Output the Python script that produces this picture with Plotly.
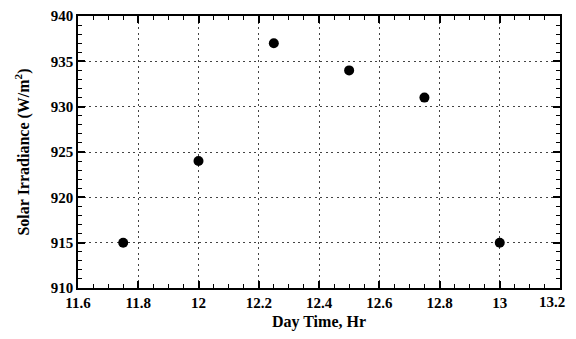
import plotly.graph_objects as go

hours = [11.75, 12.0, 12.25, 12.5, 12.75, 13.0]
irradiance = [915, 924, 937, 934, 931, 915]
x_tickvals = [11.6, 11.8, 12.0, 12.2, 12.4, 12.6, 12.8, 13.0, 13.2]
x_ticktext = ["11.6", "11.8", "12", "12.2", "12.4", "12.6", "12.8", "13", "13.2"]

font_family = "Liberation Serif, Times New Roman, serif"
tick_font = dict(family=font_family, size=15, color="black", weight="bold")

fig = go.Figure()
fig.add_trace(go.Scatter(
    x=hours, y=irradiance, mode="markers",
    marker=dict(color="black", size=10),
    showlegend=False,
    cliponaxis=False,
))

axis_common = dict(
    showline=True, linecolor="black", linewidth=1.5, mirror="ticks",
    ticks="inside", ticklen=7, tickwidth=1.5, tickcolor="black",
    showgrid=True, gridcolor="#444", griddash="2px,3.5px", gridwidth=1.2,
    zeroline=False, automargin=False,
    tickfont=tick_font,
)

# last x tick label is drawn as an annotation, nudged left so it stays inside the window
shown_ticktext = x_ticktext[:-1] + [""]

fig.update_xaxes(
    range=[11.6, 13.2],
    tickvals=x_tickvals, ticktext=shown_ticktext,
    minor=dict(dtick=0.05, tick0=11.6, ticks="inside", ticklen=4, tickcolor="black", tickwidth=1, showgrid=False),
    title=dict(text="Day Time, Hr", font=dict(family=font_family, size=16, color="black", weight="bold"), standoff=8),
    **axis_common,
)
fig.update_yaxes(
    range=[910, 940], dtick=5, tick0=910,
    minor=dict(dtick=1, tick0=910, ticks="inside", ticklen=4, tickcolor="black", tickwidth=1, showgrid=False),
    title=dict(text="Solar Irradiance (W/m<sup>2</sup>)", font=dict(family=font_family, size=16, color="black", weight="bold"), standoff=17),
    **axis_common,
)

fig.add_annotation(
    x=x_tickvals[-1], xref="x", y=0, yref="paper",
    text=x_ticktext[-1], showarrow=False,
    xanchor="right", yanchor="top", xshift=7, yshift=-4,
    font=tick_font,
)

# page body has an 8px default margin, so size/offset compensate for it
fig.update_layout(
    width=568, height=323,
    margin=dict(l=70, r=16, t=8, b=43),
    paper_bgcolor="white", plot_bgcolor="white",
    font=dict(family=font_family, color="black"),
)

fig.write_html("out.html")
